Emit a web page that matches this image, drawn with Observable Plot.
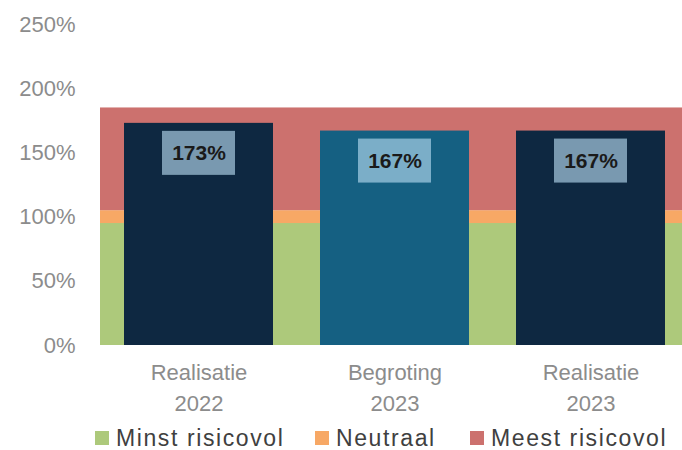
<!DOCTYPE html>
<html>
<head>
<meta charset="utf-8">
<script src="https://cdn.jsdelivr.net/npm/d3@7"></script>
<script src="https://cdn.jsdelivr.net/npm/@observablehq/plot@0.6"></script>
<style>
  html, body { margin: 0; padding: 0; background: #fff; }
  body { width: 682px; height: 450px; overflow: hidden; font-family: "Liberation Sans", Arial, sans-serif; }
  .legend { position: relative; height: 26px; margin-top: 6px; line-height: 24px; font-size: 23px; color: #404040; letter-spacing: 1.6px; }
  .legend .item { position: absolute; top: 0; display: flex; align-items: center; white-space: nowrap; }
  .legend .sw { width: 14px; height: 14px; margin-right: 7px; }
</style>
</head>
<body>
<div id="chart"></div>
<script>
// Categories and values
const categories = ["Realisatie\n2022", "Begroting\n2023", "Realisatie\n2023"];
const values = [173, 167, 167];
const barColors = ["#0e2841", "#156082", "#0e2841"];
const valueLabels = ["173%", "167%", "167%"];

// Background risk zones
const zoneNames = ["Minst risicovol", "Neutraal", "Meest risicovol"];
const zoneLow = [0, 95, 105];
const zoneHigh = [95, 105, 185];
const zoneColors = ["#adc97b", "#f7a865", "#cc716e"];

const yTicks = [0, 50, 100, 150, 200, 250];

const bars = categories.map((c, i) => ({cat: c, value: values[i], color: barColors[i], label: valueLabels[i]}));
const zones = zoneNames.map((n, i) => ({name: n, low: zoneLow[i], high: zoneHigh[i], color: zoneColors[i]}));

const plot = Plot.plot({
  width: 682,
  height: 420,
  marginLeft: 100,
  marginRight: 0,
  marginTop: 24,
  marginBottom: 75,
  style: {fontFamily: "Liberation Sans, Arial, sans-serif", background: "#fff"},
  x: {domain: categories, range: [103, 685.7], paddingInner: 0.2374, paddingOuter: 0.1, label: null},
  y: {domain: [0, 250], ticks: yTicks, label: null},
  marks: [
    Plot.rect(zones, {y1: "low", y2: "high", fill: "color"}),
    Plot.barY(bars, {x: "cat", y: "value", fill: "color"}),
    Plot.barY(bars, {x: "cat", y1: "value", y2: "value", fill: "rgb(184,220,240)", fillOpacity: 0.63,
      insetLeft: 38, insetRight: 38, insetTop: 8, insetBottom: -52}),
    Plot.text(bars, {x: "cat", y: "value", text: "label", dy: 30, fontSize: 21, fontWeight: "bold", fill: "#1a1a1a"}),
    Plot.axisY({ticks: yTicks, tickFormat: d => d + "%", tickSize: 0, tickPadding: 25, fontSize: 22, fill: "#8c8c8c", style: {letterSpacing: "2.3px"}}),
    Plot.axisX({tickSize: 0, tickPadding: 13, fontSize: 22, fill: "#8c8c8c", lineHeight: 1.4, style: {letterSpacing: "1.2px"}})
  ]
});

document.getElementById("chart").appendChild(plot);

const legendLefts = [95, 315, 470];
const legend = document.createElement("div");
legend.className = "legend";
zones.forEach((z, i) => {
  const item = document.createElement("div");
  item.className = "item";
  item.style.left = legendLefts[i] + "px";
  const sw = document.createElement("span");
  sw.className = "sw";
  sw.style.background = z.color;
  const t = document.createElement("span");
  t.textContent = z.name;
  item.appendChild(sw);
  item.appendChild(t);
  legend.appendChild(item);
});
document.getElementById("chart").appendChild(legend);
</script>
</body>
</html>
